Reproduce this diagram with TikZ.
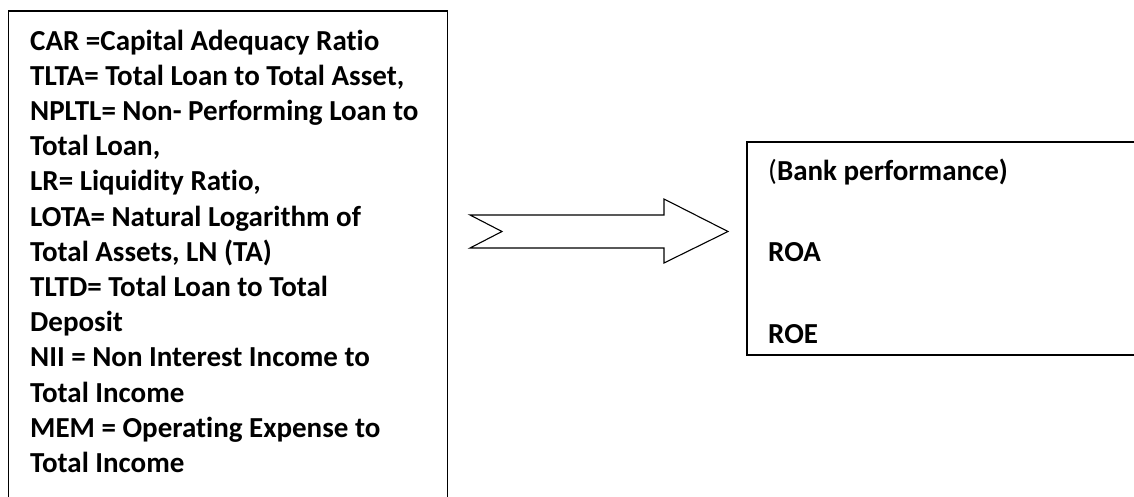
\documentclass[tikz,border=0pt]{standalone}
\usepackage{fontspec}
\setmainfont{Carlito}[Ligatures=NoCommon]
\usetikzlibrary{calc}
\tikzset{
  boxline/.style={draw=black, line width=1.4pt},
  boxtext/.style={anchor=base west, align=left, inner sep=0pt,
    font=\bfseries\fontsize{29}{35.2}\selectfont},
  bigarrow/.style={draw=black, line width=1.1pt, line join=miter, fill=white},
}
\def\drawBigArrow{
\coordinate (A1) at (470,215);
\coordinate (A2) at (664,215);
\coordinate (A3) at (664,199);
\coordinate (A4) at (728,231.5);
\coordinate (A5) at (664,263);
\coordinate (A6) at (664,248);
\coordinate (A7) at (470,248);
\coordinate (A8) at (502,231.5);
\draw[bigarrow] (A1) -- (A2) -- (A3) -- (A4) -- (A5) -- (A6) -- (A7) -- (A8) -- cycle;
}

\begin{document}
\begin{tikzpicture}[x=1pt,y=-1pt]
\useasboundingbox (0,0) rectangle (1134,497);
\clip (0,0) rectangle (1134,497);
% left box, its bottom edge runs off the page
\draw[boxline] (8.5,520) -- (8.5,11) -- (447.5,11) -- (447.5,520);
% base anchor sits on the last line
\node[boxtext] (vars) at (30,472.4) {CAR =Capital Adequacy Ratio\\
TLTA= Total Loan to Total Asset,\\
NPLTL= Non- Performing Loan to\\
Total Loan,\\
LR= Liquidity Ratio,\\
LOTA= Natural Logarithm of\\
Total Assets, LN (TA)\\
TLTD= Total Loan to Total\\
Deposit\\
NII = Non Interest Income to\\
Total Income\\
MEM = Operating Expense to\\
Total Income};
% right box, its right edge runs off the page
\draw[boxline] (1150,142) -- (747,142) -- (747,355) -- (1150,355);
\node[boxtext] (perf) at (768,343) {{\mdseries(}Bank performance)\\[46pt]
ROA\\[46pt]
ROE};
\drawBigArrow
\end{tikzpicture}
\end{document}
